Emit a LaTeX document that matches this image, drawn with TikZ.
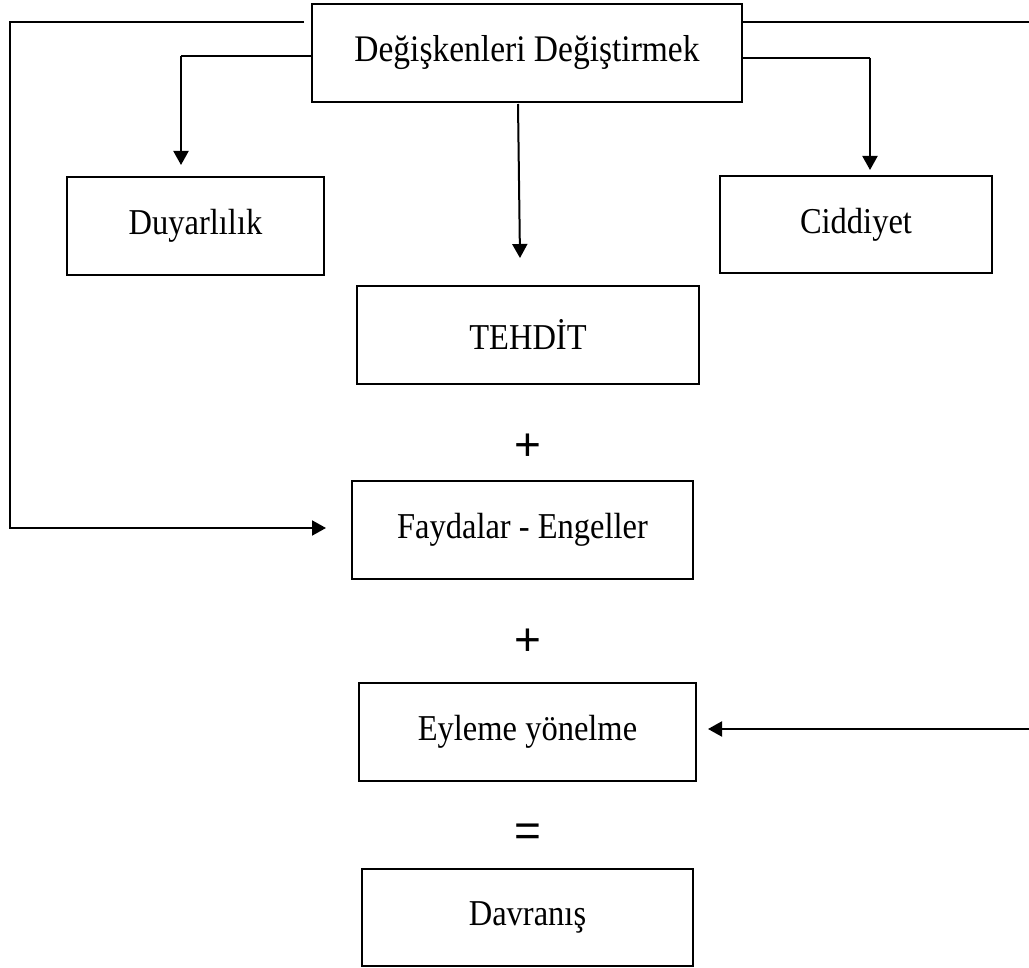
\documentclass[tikz,border=0pt]{standalone}
\usepackage{fontspec}
\usepackage{graphicx}
\setmainfont{Liberation Serif}
\newfontfamily\opfont{Liberation Sans}
\usetikzlibrary{arrows.meta}
\newcommand\tallt[1]{\scalebox{1}[1.12]{#1}}
\tikzset{
  box/.style={draw, line width=2pt, inner sep=0pt, align=center,
    font=\fontsize{32.5}{38}\selectfont},
  op/.style={inner sep=0pt, font=\opfont\fontsize{46}{50}\selectfont},
  link/.style={line width=2pt},
  thin link/.style={line width=1.3pt},
  arr/.style={-{Triangle[length=14pt,width=15pt]}},
}
\begin{document}
\begin{tikzpicture}[x=1pt,y=-1pt]
  \useasboundingbox (0,0) rectangle (1029,968);

  % boxes
  \node[box, minimum width=430pt, minimum height=98pt] (top) at (527,53) {\tallt{\fontsize{33.5}{38}\selectfont Değişkenleri Değiştirmek}};
  \node[box, minimum width=257pt, minimum height=98pt] (duy) at (195.5,226) {\tallt{Duyarlılık}};
  \node[box, minimum width=272pt, minimum height=97pt] (cid) at (856,224.5) {\tallt{Ciddiyet}};
  \node[box, minimum width=342pt, minimum height=98pt] (teh) at (528,335) {\tallt{TEHDİT}};
  \node[box, minimum width=341pt, minimum height=98pt] (fay) at (522.5,530) {\tallt{Faydalar - Engeller}};
  \node[box, minimum width=337pt, minimum height=98pt] (eyl) at (527.5,732) {\tallt{Eyleme yönelme}};
  \node[box, minimum width=331pt, minimum height=97pt] (dav) at (527.5,917.5) {\tallt{Davranış}};

  % operators between the boxes
  \node[op] (p1) at (528,447) {+};
  \node[op] (p2) at (528,642) {+};
  \node[op] (eq) at (528,835) {=};

  % free ends of the connectors
  \coordinate (tl) at (304,22);
  \coordinate (lc) at (10,22);
  \coordinate (lb) at (10,528);
  \coordinate (fayin) at (326,528);
  \coordinate (rr) at (1029,22);
  \coordinate (re) at (1029,729);
  \coordinate (eylin) at (708,729);
  \coordinate (dk) at (181,56);
  \coordinate (din) at (181,165);
  \coordinate (ck) at (870,58);
  \coordinate (cin) at (870,170);
  \coordinate (ms) at (518,104);
  \coordinate (tin) at (520,258);

  % connectors
  \draw[link, arr] (tl) -- (lc) -- (lb) -- (fayin);
  \draw[link] (top.east |- rr) -- (rr);
  \draw[link, arr] (re) -- (eylin);
  \draw[thin link] (top.west |- dk) -- (dk);
  \draw[link, arr] (dk) -- (din);
  \draw[thin link] (top.east |- ck) -- (ck);
  \draw[link, arr] (ck) -- (cin);
  \draw[link, arr] (ms) -- (tin);
\end{tikzpicture}
\end{document}
